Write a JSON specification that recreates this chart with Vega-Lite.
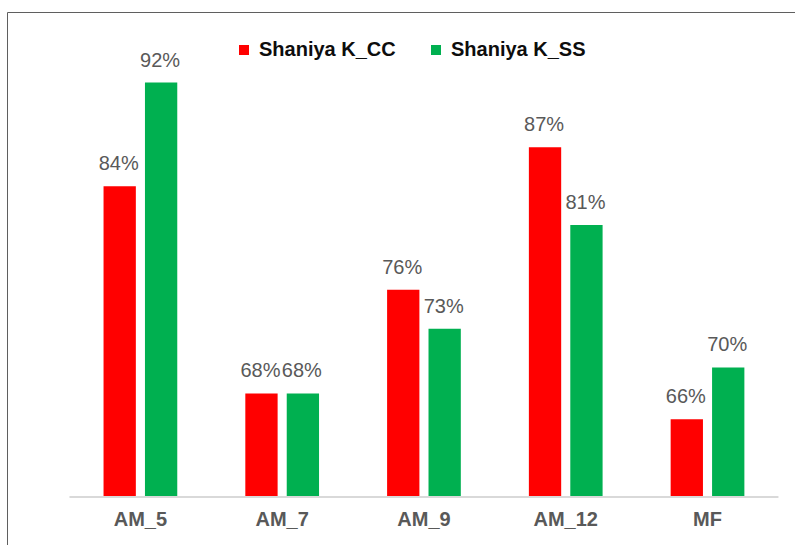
{
  "$schema": "https://vega.github.io/schema/vega-lite/v6.json",
  "width": 788,
  "height": 533,
  "autosize": {"type": "none"},
  "padding": {"left": 7, "top": 12, "right": 0, "bottom": 0},
  "background": "#ffffff",
  "config": {
    "view": {"stroke": "#5f5f5f", "strokeWidth": 1},
    "font": "Liberation Sans"
  },
  "data": {
    "values": [
      {"category": "AM_5", "series": "Shaniya  K_CC", "value": 0.84},
      {"category": "AM_5", "series": "Shaniya  K_SS", "value": 0.92},
      {"category": "AM_7", "series": "Shaniya  K_CC", "value": 0.68},
      {"category": "AM_7", "series": "Shaniya  K_SS", "value": 0.68},
      {"category": "AM_9", "series": "Shaniya  K_CC", "value": 0.76},
      {"category": "AM_9", "series": "Shaniya  K_SS", "value": 0.73},
      {"category": "AM_12", "series": "Shaniya  K_CC", "value": 0.87},
      {"category": "AM_12", "series": "Shaniya  K_SS", "value": 0.81},
      {"category": "MF", "series": "Shaniya  K_CC", "value": 0.66},
      {"category": "MF", "series": "Shaniya  K_SS", "value": 0.70}
    ]
  },
  "layer": [
    {
      "mark": {"type": "bar"},
      "encoding": {
        "x": {
          "field": "category",
          "type": "nominal",
          "sort": ["AM_5", "AM_7", "AM_9", "AM_12", "MF"],
          "scale": {"domain": ["AM_5", "AM_7", "AM_9", "AM_12", "MF"], "paddingInner": 0.48, "paddingOuter": 0.519, "align": 0.656},
          "axis": {
            "title": null,
            "orient": "bottom",
            "offset": -48,
            "domain": false,
            "ticks": false,
            "labelPadding": 12,
            "labelFont": "Liberation Sans",
            "labelFontSize": 20,
            "labelFontWeight": "bold",
            "labelColor": "#595959",
            "labelAngle": 0
          }
        },
        "xOffset": {
          "field": "series",
          "type": "nominal",
          "scale": {"paddingInner": 0.22, "paddingOuter": 0}
        },
        "y": {
          "field": "value",
          "type": "quantitative",
          "scale": {"domain": [0.56293, 0.97452], "nice": false, "zero": false},
          "axis": null
        },
        "y2": {"datum": 0.6},
        "color": {
          "field": "series",
          "type": "nominal",
          "scale": {"domain": ["Shaniya  K_CC", "Shaniya  K_SS"], "range": ["#ff0000", "#00b050"]},
          "legend": {
            "title": null,
            "orient": "none",
            "legendX": 227,
            "legendY": 28,
            "direction": "horizontal",
            "symbolType": "square",
            "symbolSize": 100,
            "symbolStrokeWidth": 0,
            "labelFont": "Liberation Sans",
            "labelFontSize": 20,
            "labelFontWeight": "bold",
            "labelColor": "#0d0d0d",
            "labelOffset": 5,
            "columnPadding": 24,
            "padding": 0
          }
        }
      }
    },
    {
      "mark": {"type": "text", "baseline": "alphabetic", "dy": -16, "dx": -1, "fontSize": 20, "font": "Liberation Sans", "color": "#595959"},
      "encoding": {
        "x": {"field": "category", "type": "nominal", "sort": ["AM_5", "AM_7", "AM_9", "AM_12", "MF"]},
        "xOffset": {"field": "series", "type": "nominal"},
        "y": {"field": "value", "type": "quantitative"},
        "text": {"field": "value", "type": "quantitative", "format": ".0%"}
      }
    },
    {
      "data": {"values": [{"from": "AM_5", "to": "MF"}]},
      "mark": {"type": "rule", "color": "#d9d9d9", "strokeWidth": 2},
      "encoding": {
        "x": {"field": "from", "type": "nominal", "sort": ["AM_5", "AM_7", "AM_9", "AM_12", "MF"], "bandPosition": -0.462},
        "x2": {"field": "to", "bandPosition": 1.462},
        "y": {"datum": 0.6}
      }
    }
  ]
}
